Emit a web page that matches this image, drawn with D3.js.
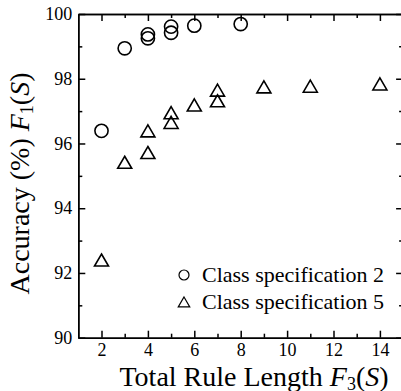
<!DOCTYPE html>
<html><head><meta charset="utf-8">
<script src="https://cdn.jsdelivr.net/npm/d3@7"></script>
<style>body{margin:0;background:#fff}svg{display:block}</style>
</head><body><div id="chart"></div>
<script>
const spec2X = [2, 3, 4, 4, 5, 5, 6, 8];
const spec2Y = [96.39, 98.94, 99.37, 99.25, 99.61, 99.42, 99.64, 99.69];
const spec5X = [2, 3, 4, 4, 5, 5, 6, 7, 7, 9, 11, 14];
const spec5Y = [92.4, 95.42, 96.39, 95.72, 96.95, 96.65, 97.19, 97.65, 97.32, 97.75, 97.77, 97.84];
const xMajorTicks = [2, 4, 6, 8, 10, 12, 14];
const xMinorTicks = [3, 5, 7, 9, 11, 13];
const yMajorTicks = [90, 92, 94, 96, 98, 100];
const yMinorTicks = [91, 93, 95, 97, 99];
const legendLabels = ["Class specification 2", "Class specification 5"];

const FONT = "Liberation Serif";
const W = 401, H = 391;
const L = 78.3, R = 403.1, T = 14, B = 337.7;
const svg = d3.select("#chart").append("svg").attr("width", W).attr("height", H)
  .attr("font-family", FONT);
const x = d3.scaleLinear().domain([1, 15]).range([L, R]);
const y = d3.scaleLinear().domain([90, 100]).range([B, T]);

function styleAxis(g){
  g.attr("font-family", FONT).attr("font-size", 18);
  g.selectAll("path,line").attr("stroke", "#000").attr("stroke-width", 1.5);
  g.selectAll("text").attr("font-size", 18).attr("font-family", FONT).attr("fill", "#000");
}
svg.append("g").attr("transform", `translate(0,${B})`)
  .call(d3.axisBottom(x).tickValues(xMajorTicks).tickFormat(d3.format("d")).tickSize(-7).tickSizeOuter(0).tickPadding(6)).call(styleAxis);
svg.append("g").attr("transform", `translate(0,${B})`)
  .call(d3.axisBottom(x).tickValues(xMinorTicks).tickFormat("").tickSize(-4).tickSizeOuter(0)).call(styleAxis);
svg.append("g").attr("transform", `translate(0,${T})`)
  .call(d3.axisTop(x).tickValues(xMajorTicks).tickFormat("").tickSize(-7).tickSizeOuter(0)).call(styleAxis);
svg.append("g").attr("transform", `translate(0,${T})`)
  .call(d3.axisTop(x).tickValues(xMinorTicks).tickFormat("").tickSize(-4).tickSizeOuter(0)).call(styleAxis);
svg.append("g").attr("transform", `translate(${L},0)`)
  .call(d3.axisLeft(y).tickValues(yMajorTicks).tickFormat(d3.format("d")).tickSize(-7).tickSizeOuter(0).tickPadding(6)).call(styleAxis);
svg.append("g").attr("transform", `translate(${L},0)`)
  .call(d3.axisLeft(y).tickValues(yMinorTicks).tickFormat("").tickSize(-4).tickSizeOuter(0)).call(styleAxis);
svg.append("g").attr("transform", `translate(${R},0)`)
  .call(d3.axisRight(y).tickValues(yMajorTicks).tickFormat("").tickSize(-7).tickSizeOuter(0)).call(styleAxis);
svg.append("g").attr("transform", `translate(${R},0)`)
  .call(d3.axisRight(y).tickValues(yMinorTicks).tickFormat("").tickSize(-4).tickSizeOuter(0)).call(styleAxis);

const triPath = (s) => { const h = s * 0.86; return `M0,${-h/2}L${s/2},${h/2}L${-s/2},${h/2}Z`; };
svg.append("g").selectAll("circle").data(spec2X.map((d,i)=>[d,spec2Y[i]])).join("circle")
  .attr("cx", d=>x(d[0])).attr("cy", d=>y(d[1])).attr("r", 6.6)
  .attr("fill", "none").attr("stroke", "#000").attr("stroke-width", 1.6);
svg.append("g").selectAll("path").data(spec5X.map((d,i)=>[d,spec5Y[i]])).join("path")
  .attr("transform", d=>`translate(${x(d[0])},${y(d[1])})`).attr("d", triPath(14))
  .attr("fill", "none").attr("stroke", "#000").attr("stroke-width", 1.6);

const lg = svg.append("g");
lg.append("circle").attr("cx", 184).attr("cy", 275).attr("r", 5).attr("fill", "none").attr("stroke", "#000").attr("stroke-width", 1.2);
lg.append("path").attr("transform", "translate(184,302)").attr("d", triPath(11.5)).attr("fill", "none").attr("stroke", "#000").attr("stroke-width", 1.2);
lg.append("text").attr("x", 202).attr("y", 281.7).attr("font-size", 22).attr("font-family", FONT).text(legendLabels[0]);
lg.append("text").attr("x", 202).attr("y", 308.5).attr("font-size", 22).attr("font-family", FONT).text(legendLabels[1]);

const xt = svg.append("text").attr("x", 254).attr("y", 386).attr("text-anchor", "middle").attr("font-size", 28).attr("font-family", FONT);
xt.append("tspan").text("Total Rule Length ");
xt.append("tspan").attr("font-style", "italic").text("F");
xt.append("tspan").attr("font-size", 18).attr("dy", 3.5).text("3");
xt.append("tspan").attr("dy", -3.5).text("(");
xt.append("tspan").attr("font-style", "italic").text("S");
xt.append("tspan").text(")");

const yt = svg.append("text").attr("transform", "translate(28.5,183.5) rotate(-90)").attr("text-anchor", "middle").attr("font-size", 28).attr("font-family", FONT);
yt.append("tspan").text("Accuracy (%) ");
yt.append("tspan").attr("font-style", "italic").text("F");
yt.append("tspan").attr("font-size", 18).attr("dy", 4).text("1");
yt.append("tspan").attr("dy", -4).text("(");
yt.append("tspan").attr("font-style", "italic").text("S");
yt.append("tspan").text(")");
</script></body></html>
